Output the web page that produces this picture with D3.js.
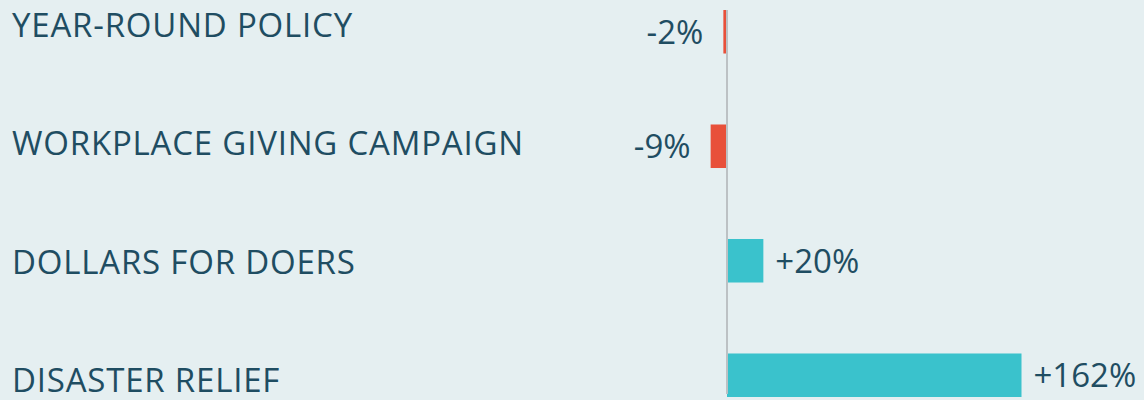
<!DOCTYPE html>
<html>
<head>
<meta charset="utf-8">
<script src="https://cdn.jsdelivr.net/npm/d3@7/dist/d3.min.js"></script>
<style>
  html, body { margin: 0; padding: 0; background: #e5eff1; }
  svg { display: block; }
  text { font-family: "Open Sans", "Noto Sans", sans-serif; fill: #1f4d62; }
</style>
</head>
<body>
<svg id="chart" width="1144" height="400"></svg>
<script>
// Change in giving by programme type
const categories = ["YEAR-ROUND POLICY", "WORKPLACE GIVING CAMPAIGN", "DOLLARS FOR DOERS", "DISASTER RELIEF"];
const values = [-2, -9, 20, 162];
const valueLabels = ["-2%", "-9%", "+20%", "+162%"];

const W = 1144, H = 400;
const zeroX = 727;
const svg = d3.select("#chart");

svg.append("rect").attr("width", W).attr("height", H).attr("fill", "#e5eff1");

// Horizontal value scale, zero baseline at zeroX
const x = d3.scaleLinear().domain([0, 162]).range([zeroX, 1021.5]);

// Bar bands
const y = d3.scaleBand().domain(categories).range([10, 397])
  .paddingInner(0.62).paddingOuter(0);

// Category label baselines down the left column
const yLabel = d3.scalePoint().domain(categories).range([37, 392]);

// Category labels
svg.append("g").selectAll("text").data(categories).join("text")
  .attr("x", 12)
  .attr("y", d => yLabel(d))
  .attr("font-size", 33)
  .attr("letter-spacing", "0.8px")
  .text(d => d);

// Bars
svg.append("g").selectAll("rect").data(values).join("rect")
  .attr("x", d => Math.min(x(d), x(0)))
  .attr("y", (d, i) => y(categories[i]))
  .attr("width", d => Math.abs(x(d) - x(0)))
  .attr("height", y.bandwidth())
  .attr("fill", d => d < 0 ? "#e8503a" : "#3ac2cc");

// Zero baseline
svg.append("line")
  .attr("x1", x(0)).attr("x2", x(0))
  .attr("y1", 10).attr("y2", 394)
  .attr("stroke", "#bcc1c4").attr("stroke-width", 2);

// Value labels
svg.append("g").selectAll("text").data(values).join("text")
  .attr("x", d => d < 0 ? x(d) - 20 : x(d) + 12)
  .attr("y", (d, i) => y(categories[i]) + y.bandwidth() / 2 + 12)
  .attr("text-anchor", d => d < 0 ? "end" : "start")
  .attr("font-size", 33)
  .text((d, i) => valueLabels[i]);
</script>
</body>
</html>
